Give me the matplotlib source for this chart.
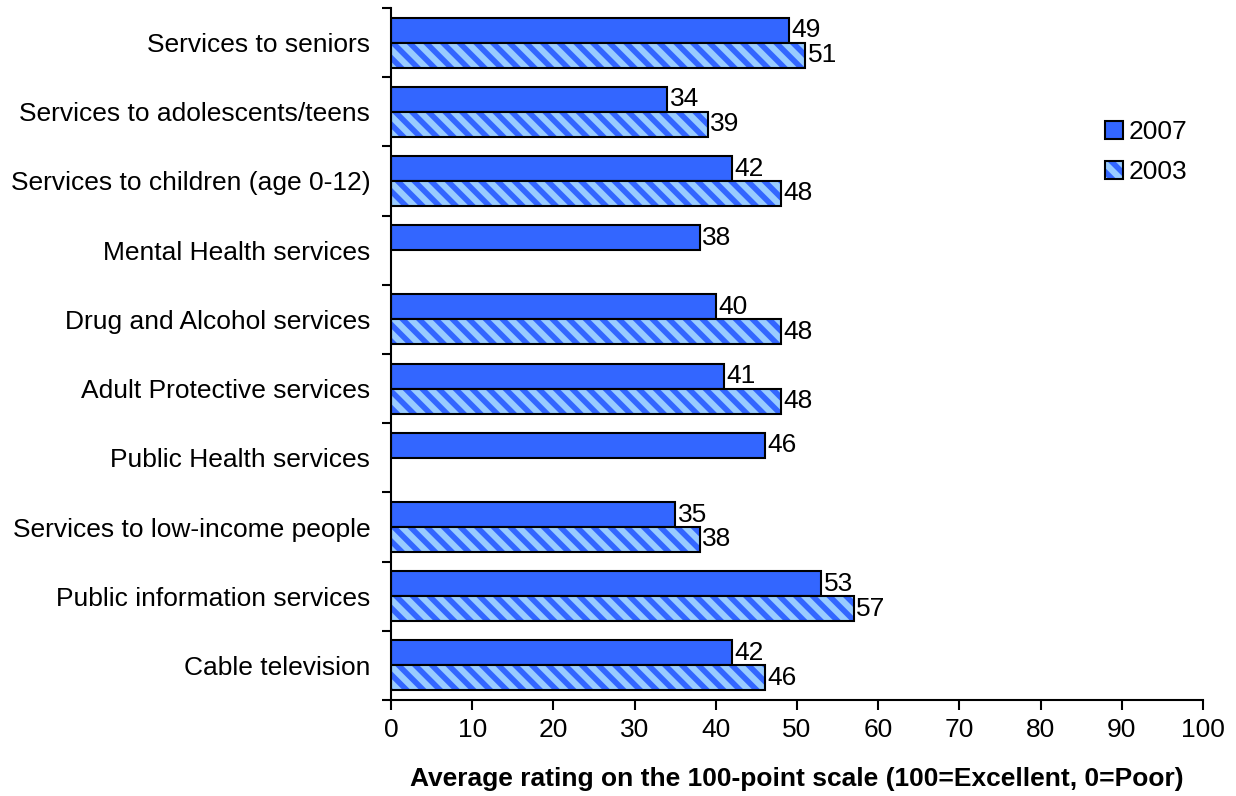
import matplotlib
matplotlib.use("Agg")
import matplotlib.pyplot as plt
import numpy as np

plt.rcParams['font.family'] = ['Liberation Sans', 'DejaVu Sans']
plt.rcParams['hatch.color'] = '#3366FF'
plt.rcParams['hatch.linewidth'] = 4.0

categories = [
    "Services to seniors",
    "Services to adolescents/teens",
    "Services to children (age 0-12)",
    "Mental Health services",
    "Drug and Alcohol services",
    "Adult Protective services",
    "Public Health services",
    "Services to low-income people",
    "Public information services",
    "Cable television",
]
values_2007 = [49, 34, 42, 38, 40, 41, 46, 35, 53, 42]
values_2003 = [51, 39, 48, None, 48, 48, None, 38, 57, 46]
xticks = [0, 10, 20, 30, 40, 50, 60, 70, 80, 90, 100]
xlabel = "Average rating on the 100-point scale (100=Excellent, 0=Poor)"

FS = 19
fig = plt.figure(figsize=(12.36, 7.96), dpi=100)
ax = fig.add_axes([391/1236, 1-700/796, (1203-391)/1236, (700-8)/796])

n = len(categories)
y = np.arange(n)
h = 0.36
v03 = [np.nan if v is None else v for v in values_2003]

b1 = ax.barh(y - h/2, values_2007, height=h, color='#3366FF', edgecolor='black',
             linewidth=1.5, label='2007')
b2 = ax.barh(y + h/2, v03, height=h, color='#99CCFF', edgecolor=None,
             linewidth=0, hatch='\\\\', label='2003')
b2o = ax.barh(y + h/2, v03, height=h, fill=False, edgecolor='black', linewidth=1.5)

for yi, v in zip(y, values_2007):
    ax.text(v + 0.3, yi - h/2, f"{v}", va='center', ha='left', fontsize=FS)
for yi, v in zip(y, values_2003):
    if v is not None:
        ax.text(v + 0.3, yi + h/2, f"{v}", va='center', ha='left', fontsize=FS)

ax.set_xlim(0, 100)
ax.set_ylim(n - 0.5, -0.5)
ax.set_xticks(xticks)
ax.set_xticklabels([str(t) for t in xticks], fontsize=FS)
ax.tick_params(axis='x', length=7, width=1.5, pad=6)

ax.set_yticks(np.arange(n + 1) - 0.5)
ax.set_yticklabels([])
ax.tick_params(axis='y', which='major', length=6.5, width=1.5)
ax.set_yticks(y, minor=True)
ax.set_yticklabels(categories, minor=True, fontsize=FS)
ax.tick_params(axis='y', which='minor', length=0, pad=15)

for s in ['top', 'right']:
    ax.spines[s].set_visible(False)
for s in ['left', 'bottom']:
    ax.spines[s].set_linewidth(1.5)

ax.set_xlabel(xlabel, fontsize=FS, fontweight='bold', labelpad=18)

leg = fig.legend(handles=[b1[0], (b2[0], b2o[0])], labels=['2007', '2003'],
                 loc='center left', bbox_to_anchor=(1105/1236, 1-152/796),
                 frameon=False, fontsize=FS, borderpad=0, borderaxespad=0,
                 handlelength=0.68, handleheight=0.68, handletextpad=0.2,
                 labelspacing=0.6)

fig.savefig("out.png", dpi=100)
